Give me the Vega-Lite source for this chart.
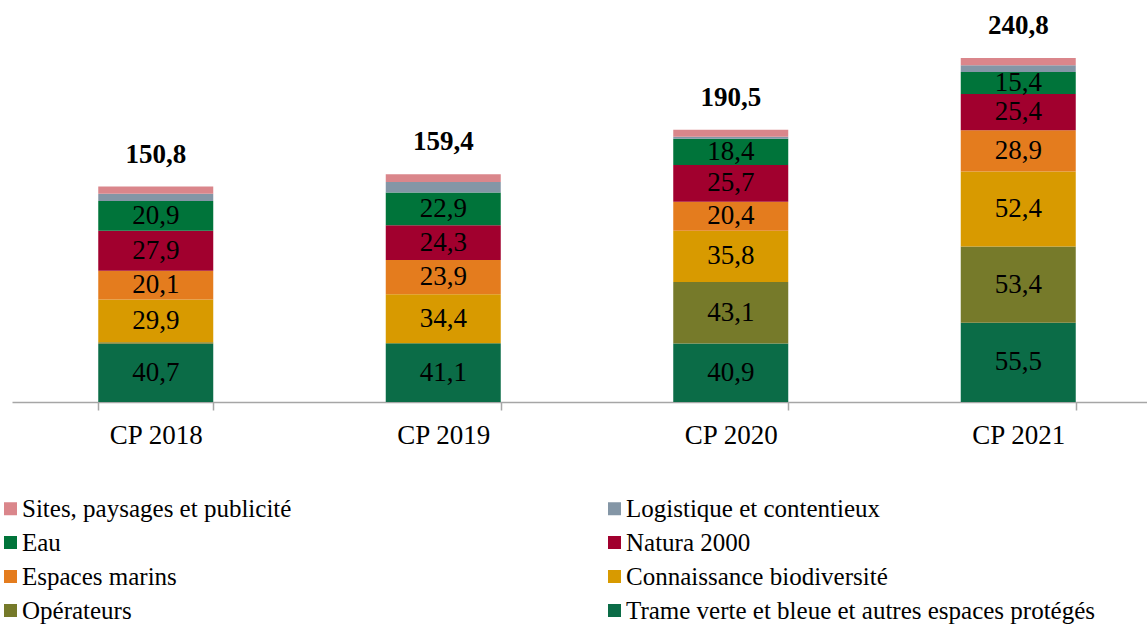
{
  "$schema": "https://vega.github.io/schema/vega-lite/v6.json",
  "width": 1150,
  "height": 400,
  "autosize": {"type": "none"},
  "padding": {"left": 12, "top": 2, "right": 0, "bottom": 222},
  "config": {
    "view": {"stroke": null},
    "font": "Liberation Serif",
    "locale": {"number": {"decimal": ",", "thousands": " ", "grouping": [3], "currency": ["", " €"]}}
  },
  "data": {
    "values": [
      {"annee": "CP 2018", "poste": "Trame verte et bleue et autres espaces protégés", "valeur": 40.7, "ordre": 1},
      {"annee": "CP 2018", "poste": "Opérateurs", "valeur": 1.2, "ordre": 2},
      {"annee": "CP 2018", "poste": "Connaissance biodiversité", "valeur": 29.9, "ordre": 3},
      {"annee": "CP 2018", "poste": "Espaces marins", "valeur": 20.1, "ordre": 4},
      {"annee": "CP 2018", "poste": "Natura 2000", "valeur": 27.9, "ordre": 5},
      {"annee": "CP 2018", "poste": "Eau", "valeur": 20.9, "ordre": 6},
      {"annee": "CP 2018", "poste": "Logistique et contentieux", "valeur": 5.1, "ordre": 7},
      {"annee": "CP 2018", "poste": "Sites, paysages et publicité", "valeur": 5.0, "ordre": 8},
      {"annee": "CP 2019", "poste": "Trame verte et bleue et autres espaces protégés", "valeur": 41.1, "ordre": 1},
      {"annee": "CP 2019", "poste": "Opérateurs", "valeur": 0, "ordre": 2},
      {"annee": "CP 2019", "poste": "Connaissance biodiversité", "valeur": 34.4, "ordre": 3},
      {"annee": "CP 2019", "poste": "Espaces marins", "valeur": 23.9, "ordre": 4},
      {"annee": "CP 2019", "poste": "Natura 2000", "valeur": 24.3, "ordre": 5},
      {"annee": "CP 2019", "poste": "Eau", "valeur": 22.9, "ordre": 6},
      {"annee": "CP 2019", "poste": "Logistique et contentieux", "valeur": 7.4, "ordre": 7},
      {"annee": "CP 2019", "poste": "Sites, paysages et publicité", "valeur": 5.4, "ordre": 8},
      {"annee": "CP 2020", "poste": "Trame verte et bleue et autres espaces protégés", "valeur": 40.9, "ordre": 1},
      {"annee": "CP 2020", "poste": "Opérateurs", "valeur": 43.1, "ordre": 2},
      {"annee": "CP 2020", "poste": "Connaissance biodiversité", "valeur": 35.8, "ordre": 3},
      {"annee": "CP 2020", "poste": "Espaces marins", "valeur": 20.4, "ordre": 4},
      {"annee": "CP 2020", "poste": "Natura 2000", "valeur": 25.7, "ordre": 5},
      {"annee": "CP 2020", "poste": "Eau", "valeur": 18.4, "ordre": 6},
      {"annee": "CP 2020", "poste": "Logistique et contentieux", "valeur": 1.3, "ordre": 7},
      {"annee": "CP 2020", "poste": "Sites, paysages et publicité", "valeur": 4.9, "ordre": 8},
      {"annee": "CP 2021", "poste": "Trame verte et bleue et autres espaces protégés", "valeur": 55.5, "ordre": 1},
      {"annee": "CP 2021", "poste": "Opérateurs", "valeur": 53.4, "ordre": 2},
      {"annee": "CP 2021", "poste": "Connaissance biodiversité", "valeur": 52.4, "ordre": 3},
      {"annee": "CP 2021", "poste": "Espaces marins", "valeur": 28.9, "ordre": 4},
      {"annee": "CP 2021", "poste": "Natura 2000", "valeur": 25.4, "ordre": 5},
      {"annee": "CP 2021", "poste": "Eau", "valeur": 15.4, "ordre": 6},
      {"annee": "CP 2021", "poste": "Logistique et contentieux", "valeur": 4.8, "ordre": 7},
      {"annee": "CP 2021", "poste": "Sites, paysages et publicité", "valeur": 5.0, "ordre": 8}
    ]
  },
  "encoding": {
    "x": {
      "field": "annee",
      "type": "nominal",
      "scale": {"paddingInner": 0.6, "paddingOuter": 0.3},
      "axis": {
        "title": null,
        "labelAngle": 0,
        "labelFontSize": 27,
        "labelColor": "#000000",
        "labelPadding": 12,
        "domainColor": "#a6a6a6",
        "domainWidth": 1.5,
        "tickColor": "#a6a6a6",
        "tickWidth": 1.5,
        "tickSize": 8,
        "tickBand": "extent",
        "grid": false
      }
    }
  },
  "layer": [
    {
      "mark": {"type": "bar"},
      "encoding": {
        "y": {"field": "valeur", "type": "quantitative", "stack": "zero", "scale": {"domain": [0, 280]}, "axis": null},
        "order": {"field": "ordre", "type": "quantitative", "sort": "ascending"},
        "color": {
          "field": "poste",
          "type": "nominal",
          "scale": {
            "domain": ["Sites, paysages et publicité", "Logistique et contentieux", "Eau", "Natura 2000", "Espaces marins", "Connaissance biodiversité", "Opérateurs", "Trame verte et bleue et autres espaces protégés"],
            "range": ["#da868b", "#8496a6", "#00743a", "#a1002e", "#e47c1e", "#d89a00", "#767a2a", "#0b6c47"]
          },
          "legend": {
            "title": null,
            "orient": "none",
            "legendX": -14,
            "legendY": 494,
            "direction": "horizontal",
            "columns": 2,
            "columnPadding": 310,
            "rowPadding": 8,
            "symbolType": "square",
            "symbolSize": 169,
            "symbolStrokeWidth": 0,
            "symbolOpacity": 1,
            "labelFontSize": 25,
            "labelColor": "#000000",
            "labelOffset": -1,
            "labelLimit": 1000
          }
        }
      }
    },
    {
      "mark": {"type": "text", "fontSize": 27, "color": "#000000", "baseline": "middle"},
      "encoding": {
        "y": {"field": "valeur", "type": "quantitative", "stack": "zero", "bandPosition": 0.5},
        "detail": {"field": "poste"},
        "order": {"field": "ordre", "type": "quantitative", "sort": "ascending"},
        "text": {"condition": {"test": "datum.valeur > 10", "field": "valeur", "type": "quantitative", "format": ".1f"}, "value": ""}
      }
    },
    {
      "transform": [{"aggregate": [{"op": "sum", "field": "valeur", "as": "total"}], "groupby": ["annee"]}],
      "mark": {"type": "text", "fontSize": 27, "fontWeight": "bold", "color": "#000000", "baseline": "alphabetic", "dy": -24},
      "encoding": {
        "y": {"field": "total", "type": "quantitative"},
        "text": {"field": "total", "type": "quantitative", "format": ".1f"}
      }
    }
  ]
}
